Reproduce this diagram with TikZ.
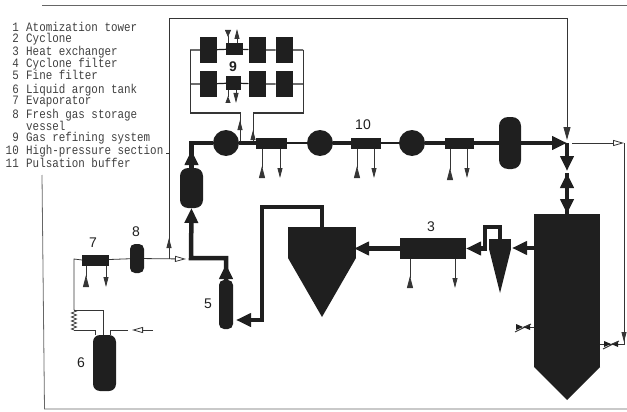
\documentclass[tikz,border=0pt]{standalone}
\usepackage{fontspec}
\setsansfont{Liberation Sans}
\setmonofont[FakeStretch=0.85]{Liberation Mono}
\usetikzlibrary{arrows.meta,decorations.pathmorphing}
\definecolor{ink}{gray}{0.12}

\begin{document}
\begin{tikzpicture}[
    x=1pt, y=-1pt,
    vessel/.style={fill=ink, rounded corners=5pt, inner sep=0pt, outer sep=0pt},
    block/.style={fill=ink, inner sep=0pt, outer sep=0pt},
    comp/.style={circle, fill=ink, minimum size=26pt, inner sep=0pt, outer sep=0pt},
    pipe/.style={draw=ink, line width=4.5pt},
    bighead/.style={-{Triangle[length=15pt,width=13pt]}},
    duct/.style={draw=ink, line width=2.6pt},
    gas/.style={draw=ink!90, line width=0.8pt},
    bus/.style={draw=ink, line width=1.2pt},
    opentip/.style={gas, -{Triangle[open,length=11pt,width=6pt]}},
    outlet/.style={gas, -{Triangle[length=10pt,width=5pt]}},
    inlet/.style={gas, -{Triangle[reversed,length=12pt,width=6pt]}},
    num/.style={font=\sffamily\fontsize{14}{14}\selectfont, text=ink, inner sep=0pt},
    legnum/.style={font=\ttfamily\fontsize{12.8}{14}\selectfont, text=black!75, anchor=base east, inner sep=0pt},
    legtxt/.style={font=\ttfamily\fontsize{12.8}{14}\selectfont, text=black!75, anchor=base west, inner sep=0pt},
    valve/.pic={
        \fill[ink] (-7,-3) -- (0,0) -- (-7,3) -- cycle;
        \fill[ink] (7,-3) -- (0,0) -- (7,3) -- cycle;
        \draw[gas, line width=1pt] (-8,5) -- (8,-3);
    }
]
\useasboundingbox (0,0) rectangle (627,412);

% Frame
\draw[black!60, line width=0.8pt] (42,175) -- (44.5,409) -- (627,409);
\draw[black!60, line width=0.8pt] (42,5.5) -- (627,5.5);

% Legend
\foreach \nr/\txt/\yb in {1/Atomization tower/32, 2/Cyclone/43, 3/Heat exchanger/56,
    4/Cyclone filter/68, 5/Fine filter/80, 6/Liquid argon tank/93, 7/Evaporator/105,
    8/Fresh gas storage/118, 9/Gas refining system/142, 10/High-pressure section/154,
    11/Pulsation buffer/167} {
    \node[legnum] (legnum\nr) at (19,\yb) {\nr};
    \node[legtxt] (legtxt\nr) at (26,\yb) {\txt};
}
\node[legtxt] (legtxt8b) at (26,130) {vessel};

% High-pressure section
\node[vessel, rounded corners=8pt, minimum width=23pt, minimum height=40pt] (buffer) at (191.5,188) {};
\node[comp] (comp1) at (226,143) {};
\node[block, minimum width=31pt, minimum height=11pt] (cool1) at (271.5,143) {};
\node[comp] (comp2) at (320,143) {};
\node[block, minimum width=30pt, minimum height=11pt] (cool2) at (366,143) {};
\node[comp] (comp3) at (412,143) {};
\node[block, minimum width=29pt, minimum height=11pt] (cool3) at (459.5,143) {};
\node[vessel, rounded corners=9pt, minimum width=22pt, minimum height=52pt] (surge) at (510,143) {};
\node[num] (lab10) at (363,124.5) {10};

% Refining system
\foreach \nm/\xc/\yc in {top1/208.5/50, top3/257/50, top4/284/50, bot1/208.5/84, bot3/257/84, bot4/284/84} {
    \node[block, minimum width=17pt, minimum height=26pt] (\nm) at (\xc,\yc) {};
}
\node[block, minimum width=17pt, minimum height=12pt] (top2) at (234.5,49) {};
\node[block, minimum width=15pt, minimum height=14pt] (bot2) at (233.5,83) {};
\node[num, font=\sffamily\bfseries\fontsize{14}{14}\selectfont] (lab9) at (233,67) {9};
\coordinate (busTL) at (190,50);
\coordinate (busTR) at (303,50);
\coordinate (busBL) at (190,84);
\coordinate (busBR) at (303,84);
\coordinate (refin) at (240,113);
\coordinate (refout) at (253,113);
\draw[bus] (busTL) -- (top1) -- (top2) -- (top3) -- (top4) -- (busTR);
\draw[bus] (busBL) -- (bot1) -- (bot2) -- (bot3) -- (bot4) -- (busBR);
\draw[gas, line width=1pt] (busTL) |- (refin) -- (refin |- comp1);
\draw[gas, line width=1pt] (busTR) |- (refout) -- (refout |- comp1);
\draw[outlet, line width=1pt] (refin |- comp1) -- (240,120);
\draw[outlet, line width=1pt] (refout |- comp1) -- (253,130);
\draw[inlet, -{Triangle[reversed,length=7pt,width=6pt]}] (228,43) -- (228,30);
\draw[outlet] (237,43) -- (237,29);
\draw[inlet, -{Triangle[reversed,length=7pt,width=5pt]}] (228,90) -- (228,103);
\draw[outlet] (236,90) -- (236,103);

% Tower, cyclone and filters
\node[block, minimum width=66pt, minimum height=153pt] (tower) at (567,290.5) {};
\fill[ink] (tower.south west) -- (tower.south east) -- (567,400) -- cycle;
\node[block, minimum width=22pt, minimum height=10pt] (cycl) at (500,244) {};
\fill[ink] (cycl.south west) -- (cycl.south east) -- (500,293) -- cycle;
\node[block, minimum width=66pt, minimum height=21pt] (hx) at (433,248.5) {};
\node[block, minimum width=68pt, minimum height=31pt] (hopper) at (322,242.5) {};
\fill[ink] (hopper.south west) -- (hopper.south east) -- (322,317) -- cycle;
\node[vessel, minimum width=14pt, minimum height=49pt] (fine) at (226,304.5) {};
\node[num] (lab3) at (431,227) {3};
\node[num] (lab5) at (208,304) {5};

% Argon side
\node[vessel, rounded corners=7pt, minimum width=23pt, minimum height=56pt] (tank) at (104.5,363) {};
\node[block, minimum width=27pt, minimum height=11pt] (evap) at (95.5,260) {};
\node[vessel, minimum width=14pt, minimum height=29pt] (fresh) at (137,258.5) {};
\node[num] (lab6) at (81,363) {6};
\node[num] (lab7) at (93,243) {7};
\node[num] (lab8) at (136,232) {8};

% Main pipes
\coordinate (corner) at (567,143);
\coordinate (valup) at (567,171);
\coordinate (valdn) at (567,173);
\coordinate (elbow) at (191,258);
\coordinate (hopup) at (262,207);
\coordinate (finein) at (236,320);
\coordinate (cycout) at (485,227);
\coordinate (cycin) at (512,248);
\draw[pipe, bighead] (fine.north) -- ++(0,-16);
\draw[pipe, bighead] (fine.north) |- (elbow) -- (buffer.south);
\draw[pipe, bighead] (buffer.north) -- ++(0,-18);
\draw[pipe] (buffer.north) |- (comp1.west);
\draw[pipe] (comp1) -- (cool1);
\draw[duct] (cool1) -- (comp2);
\draw[pipe] (comp2) -- (cool2);
\draw[duct] (cool2) -- (comp3);
\draw[pipe] (comp3) -- (cool3) -- (surge);
\draw[pipe, bighead] (surge) -- (corner);
\draw[pipe, bighead] (corner) -- (valup);
\draw[pipe, bighead] (tower.north) -- (valdn);
\draw[pipe, bighead] (valdn) -- (tower.north);
\draw[pipe, bighead] (cycin -| tower.west) -- (cycin);
\draw[pipe, bighead] (cycl.north) |- (cycout) |- (hx.east);
\draw[pipe, bighead, shorten >=-2pt] (hx.west) -- (hopper.east |- hx.west);
\draw[pipe, bighead] (hopper.north) |- (hopup) |- (finein);

% Coolant stubs
\foreach \nm/\xi/\xo/\yi/\yo in {cool1/262/280/178/178, cool2/357/374/178/178,
    cool3/450/467/180/178, hx/410/455/288/288, evap/86/106/287/287} {
    \draw[inlet] (\xi,0 |- \nm.south) -- (\xi,\yi);
    \draw[outlet] (\xo,0 |- \nm.south) -- (\xo,\yo);
}

% Gas lines
\coordinate (junc) at (169,259);
\coordinate (looptl) at (169,18);
\coordinate (looptr) at (567,18);
\coordinate (loopend) at (567,140);
\coordinate (fresharr) at (186,259);
\coordinate (outstart) at (572,143);
\coordinate (outcorner) at (624,143);
\coordinate (outbot) at (624,344);
\coordinate (valveR) at (611,344);
\coordinate (valveL) at (523,327);
\coordinate (coilup) at (74,310);
\coordinate (coildn) at (74,330);
\coordinate (evapcor) at (74,259);
\coordinate (coilout) at (103,310);
\coordinate (coilret) at (95,330);
\coordinate (argonfar) at (153,330);
\coordinate (argontip) at (132,330);
\coordinate (argonin) at (128,330);
\coordinate (lead) at (166,153);

\draw[gas] (junc) -- (looptl) -- (looptr);
\draw[gas, -{Triangle[length=13pt,width=7pt]}] (looptr) -- (loopend);
\draw[outlet] (junc) -- (169,238);
\draw[gas] (lead) -- (lead -| junc);
\draw[gas] (evap) -- (fresh);
\draw[opentip] (fresh) -- (fresharr);
\draw[opentip] (outstart) -- (outcorner);
\draw[gas] (outcorner) -- (outbot) -- (outbot -| tower.east);
\draw[outlet] (outcorner) -- (624,342);
\draw[gas] (valveL) -- (valveL -| tower.west);
\pic at (valveL) {valve};
\pic at (valveR) {valve};
\draw[gas] (evap.west) -- (evapcor) -- (coilup);
\draw[gas, decorate, decoration={zigzag, segment length=4pt, amplitude=2.5pt}] (coilup) -- (coildn);
\draw[gas] (coilup) -- (coilout) -- (coilout |- tank.north);
\draw[gas] (coildn) -- (coilret) -- (coilret |- tank.north);
\draw[opentip] (argonfar) -- (argontip);
\draw[gas] (argonin) -| (110,335);

\end{tikzpicture}
\end{document}
